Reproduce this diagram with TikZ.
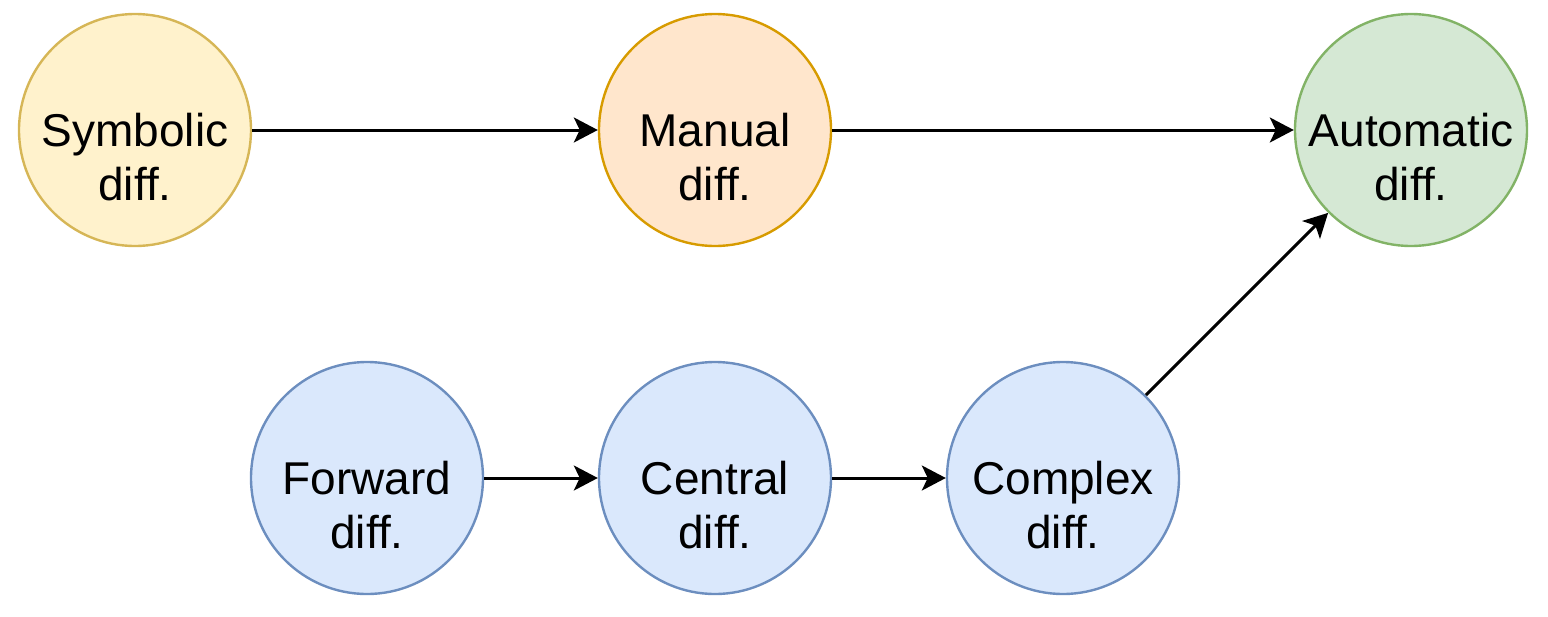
\documentclass[tikz,border=0pt]{standalone}
\usepackage{fontspec}
\setmainfont{Liberation Sans}
\usetikzlibrary{arrows.meta}
\definecolor{yelfill}{HTML}{FFF2CC}
\definecolor{yeldraw}{HTML}{D6B656}
\definecolor{orgfill}{HTML}{FFE6CC}
\definecolor{orgdraw}{HTML}{D79B00}
\definecolor{grnfill}{HTML}{D5E8D4}
\definecolor{grndraw}{HTML}{82B366}
\definecolor{blufill}{HTML}{DAE8FC}
\definecolor{bludraw}{HTML}{6C8EBF}

\begin{document}
\begin{tikzpicture}[x=0.5pt,y=-0.5pt,
  meth/.style={circle, line width=1.2pt, minimum size=116pt, inner sep=0pt},
  txt/.style={align=center, text height=0pt, text depth=0pt, yshift=-35pt,
    font=\fontsize{23}{27}\selectfont},
  flow/.style={-{Stealth[length=12pt,width=12.5pt,inset=3pt]}, line width=1.5pt}]
\useasboundingbox (0,0) rectangle (1548,616);

% top row
\node[meth, fill=yelfill, draw=yeldraw, label={[txt]center:Symbolic\\diff.}] (sym) at (135,130) {};
\node[meth, fill=orgfill, draw=orgdraw, label={[txt]center:Manual\\diff.}] (man) at (715,130) {};
\node[meth, fill=grnfill, draw=grndraw, label={[txt]center:Automatic\\diff.}] (aut) at (1411,130) {};

% bottom row
\node[meth, fill=blufill, draw=bludraw, label={[txt]center:Forward\\diff.}] (fwd) at (367,478) {};
\node[meth, fill=blufill, draw=bludraw, label={[txt]center:Central\\diff.}] (cen) at (715,478) {};
\node[meth, fill=blufill, draw=bludraw, label={[txt]center:Complex\\diff.}] (cpx) at (1063,478) {};

\draw[flow] (sym) -- (man);
\draw[flow] (man) -- (aut);
\draw[flow] (fwd) -- (cen);
\draw[flow] (cen) -- (cpx);
\draw[flow] (cpx) -- (aut);

\end{tikzpicture}
\end{document}
